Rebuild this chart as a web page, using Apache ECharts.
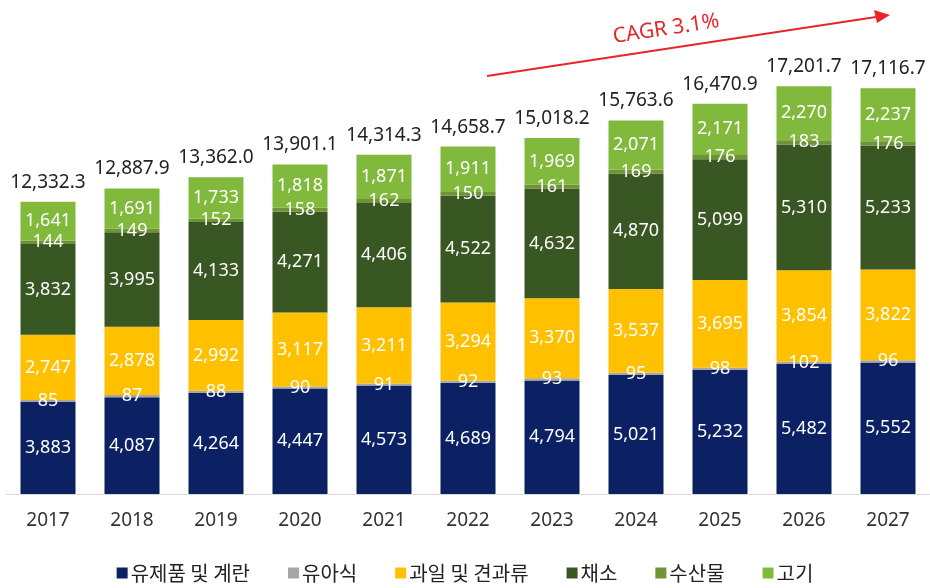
<!DOCTYPE html>
<html>
  <head>
    <meta charset="utf-8" />
    <title>ECharts</title>
    <script src="https://cdn.jsdelivr.net/npm/echarts@6/dist/echarts.min.js"></script>
    <style>
      body { margin: 0; background: #fff; }
    </style>
  </head>
  <body>
    <div id="main" style="width: 930px;height:588px;"></div>
    <script type="text/javascript">
        var years = ['2017', '2018', '2019', '2020', '2021', '2022', '2023', '2024', '2025', '2026', '2027'];
        var dairy = [3883, 4087, 4264, 4447, 4573, 4689, 4794, 5021, 5232, 5482, 5552];
        var babyFood = [85, 87, 88, 90, 91, 92, 93, 95, 98, 102, 96];
        var fruitNuts = [2747, 2878, 2992, 3117, 3211, 3294, 3370, 3537, 3695, 3854, 3822];
        var vegetables = [3832, 3995, 4133, 4271, 4406, 4522, 4632, 4870, 5099, 5310, 5233];
        var seafood = [144, 149, 152, 158, 162, 150, 161, 169, 176, 183, 176];
        var meat = [1641, 1691, 1733, 1818, 1871, 1911, 1969, 2071, 2171, 2270, 2237];
        var totals = [12332.3, 12887.9, 13362.0, 13901.1, 14314.3, 14658.7, 15018.2, 15763.6, 16470.9, 17201.7, 17116.7];

        var myChart = echarts.init(document.getElementById('main'));

        var numFont = '"Noto Sans", "Noto Sans CJK KR", sans-serif';

        function fmt(v) {
            return v.toLocaleString('en-US');
        }

        function mkSeries(name, data, color) {
            return {
                name: name,
                type: 'bar',
                stack: 'total',
                barWidth: 55,
                data: data,
                itemStyle: { color: color },
                label: {
                    show: true,
                    position: 'inside',
                    color: '#fff',
                    fontSize: 18,
                    fontFamily: numFont,
                    formatter: function (p) { return fmt(p.value); }
                }
            };
        }

        var series = [
            mkSeries('유제품 및 계란', dairy, '#0b2163'),
            mkSeries('유아식', babyFood, '#a6a6a6'),
            mkSeries('과일 및 견과류', fruitNuts, '#ffc000'),
            mkSeries('채소', vegetables, '#385723'),
            mkSeries('수산물', seafood, '#6f9336'),
            mkSeries('고기', meat, '#80b93c')
        ];
        // 합계 라벨 (투명 막대 위)
        series.push({
            name: 'total',
            type: 'bar',
            stack: 'total',
            barWidth: 55,
            data: years.map(function () { return 0; }),
            itemStyle: { color: 'transparent' },
            label: {
                show: true,
                position: 'top',
                distance: 10,
                color: '#222',
                fontSize: 19,
                fontFamily: numFont,
                formatter: function (p) {
                    return totals[p.dataIndex].toLocaleString('en-US', { minimumFractionDigits: 1, maximumFractionDigits: 1 });
                }
            }
        });

        var option = {
            animation: false,
            grid: { left: 6, right: 0, top: 20, bottom: 94 },
            legend: {
                bottom: 0,
                left: 'center',
                itemWidth: 11,
                itemHeight: 11,
                itemGap: 38,
                icon: 'rect',
                data: ['유제품 및 계란', '유아식', '과일 및 견과류', '채소', '수산물', '고기'],
                textStyle: { fontSize: 20, color: '#222', fontFamily: '"Noto Sans CJK KR", sans-serif', padding: [0, 0, 0, -2] }
            },
            xAxis: {
                type: 'category',
                data: years,
                axisTick: { show: false },
                axisLine: { lineStyle: { color: '#d9d9d9' } },
                axisLabel: { fontSize: 19, color: '#333', margin: 17, fontFamily: numFont }
            },
            yAxis: {
                type: 'value',
                min: 0,
                max: 20000,
                show: false,
                splitLine: { show: false }
            },
            graphic: [
                {
                    type: 'line',
                    shape: { x1: 487, y1: 76, x2: 876, y2: 17 },
                    style: { stroke: '#e8262a', lineWidth: 2 }
                },
                {
                    type: 'polygon',
                    shape: { points: [[890, 15], [874, 10], [877, 23]] },
                    style: { fill: '#e8262a' }
                },
                {
                    type: 'text',
                    x: 666,
                    y: 29,
                    rotation: 0.15,
                    style: {
                        text: 'CAGR 3.1%',
                        fill: '#e8262a',
                        fontSize: 21,
                        fontFamily: numFont,
                        align: 'center',
                        verticalAlign: 'middle'
                    }
                }
            ],
            series: series
        };

        myChart.setOption(option);
    </script>
  </body>
</html>
